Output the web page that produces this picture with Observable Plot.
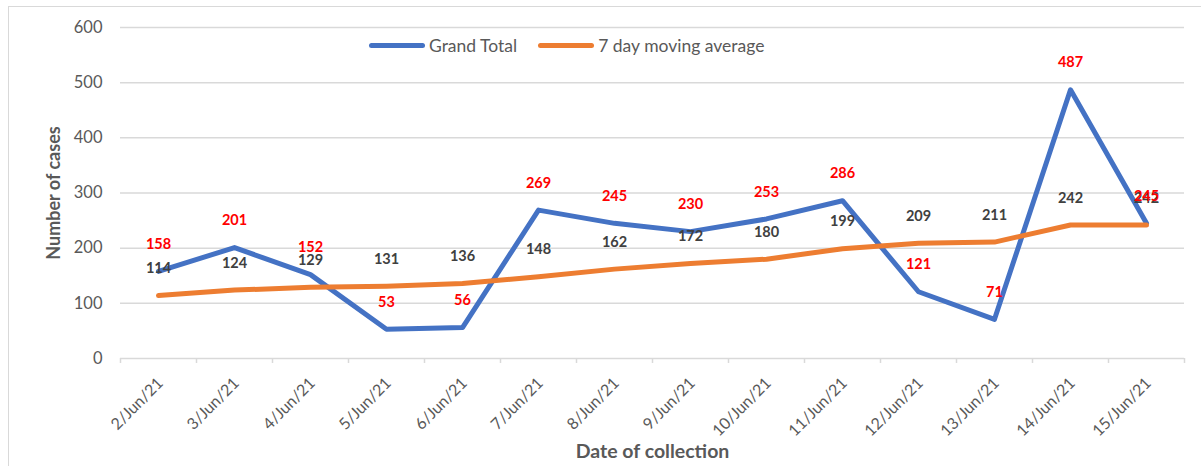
<!DOCTYPE html>
<html>
<head>
<meta charset="utf-8">
<script src="https://cdn.jsdelivr.net/npm/d3@7"></script>
<script src="https://cdn.jsdelivr.net/npm/@observablehq/plot@0.6"></script>
<style>
  html, body { margin: 0; padding: 0; background: #fff; }
  #wrap { position: relative; width: 1201px; height: 466px; overflow: hidden; font-family: Lato, sans-serif; }
  #frame { position: absolute; left: 8px; top: 6px; width: 1300px; height: 500px; border-left: 1.5px solid #d9d9d9; border-top: 1.5px solid #d9d9d9; box-sizing: border-box; }
  #legend { position: absolute; top: 35px; left: 369px; display: flex; align-items: center; font-size: 17.5px; color: #595959; white-space: nowrap; }
  .sw { display: inline-block; width: 56px; height: 5px; border-radius: 3px; margin-right: 4px; }
  .item { display: flex; align-items: center; margin-right: 21px; }
  #chart { position: absolute; left: 0; top: 0; }
</style>
</head>
<body>
<div id="wrap">
  <div id="frame"></div>
  <div id="chart"></div>
  <div id="legend"></div>
</div>
<script>
const dates = ["2/Jun/21","3/Jun/21","4/Jun/21","5/Jun/21","6/Jun/21","7/Jun/21","8/Jun/21","9/Jun/21","10/Jun/21","11/Jun/21","12/Jun/21","13/Jun/21","14/Jun/21","15/Jun/21"];
const grandTotal = [158,201,152,53,56,269,245,230,253,286,121,71,487,245];
const movingAvg = [114,124,129,131,136,148,162,172,180,199,209,211,242,242];
const yTicks = [0,100,200,300,400,500,600];
const seriesNames = ["Grand Total","7 day moving average"];
const seriesColors = ["#4472c4","#ed7d31"];

const rows = dates.map((d, i) => ({date: d, total: grandTotal[i], avg: movingAvg[i]}));
const halfStep = 38;

const chart = Plot.plot({
  width: 1201,
  height: 466,
  marginLeft: 120,
  marginRight: 17,
  marginTop: 27,
  marginBottom: 108,
  style: {fontFamily: "Lato, sans-serif", fontSize: "16px", background: "transparent"},
  x: {type: "point", domain: dates, padding: 0.5, axis: null},
  y: {domain: [0, 600], axis: null},
  marks: [
    Plot.gridY(yTicks, {stroke: "#d9d9d9", strokeOpacity: 1, strokeWidth: 1.5}),
    Plot.ruleX(dates, {x: d => d, dx: -halfStep, y1: 0, y2: -9, stroke: "#d9d9d9", strokeWidth: 1.5}),
    Plot.ruleX(dates.slice(-1), {x: d => d, dx: halfStep, y1: 0, y2: -9, stroke: "#d9d9d9", strokeWidth: 1.5}),
    Plot.axisY({ticks: yTicks, tickSize: 0, tickPadding: 18, fontSize: 16.5, fill: "#595959", label: null}),
    Plot.text(dates, {x: d => d, frameAnchor: "bottom", rotate: -45, textAnchor: "end", lineAnchor: "middle", dy: 22, dx: 2, fontSize: 16, fill: "#595959"}),
    Plot.text(["Number of cases"], {frameAnchor: "left", textAnchor: "middle", rotate: -90, dx: -66, fontWeight: "bold", fontSize: 18, fill: "#595959"}),
    Plot.text(["Date of collection"], {frameAnchor: "bottom", textAnchor: "middle", dy: 99, fontWeight: "bold", fontSize: 19.5, fill: "#595959"}),
    Plot.line(rows, {x: "date", y: "total", stroke: seriesColors[0], strokeWidth: 5, strokeLinecap: "round", strokeLinejoin: "round"}),
    Plot.line(rows, {x: "date", y: "avg", stroke: seriesColors[1], strokeWidth: 5, strokeLinecap: "round", strokeLinejoin: "round"}),
    Plot.text(rows, {x: "date", y: "avg", text: "avg", dy: -27, fontSize: 14.5, fontWeight: "bold", fill: "#404040"}),
    Plot.text(rows, {x: "date", y: "total", text: "total", dy: -27, fontSize: 14.5, fontWeight: "bold", fill: "#ff0000"})
  ]
});
document.getElementById("chart").appendChild(chart);

const legend = document.getElementById("legend");
seriesNames.forEach((name, i) => {
  const item = document.createElement("div");
  item.className = "item";
  const sw = document.createElement("span");
  sw.className = "sw";
  sw.style.background = seriesColors[i];
  const label = document.createElement("span");
  label.textContent = name;
  item.appendChild(sw);
  item.appendChild(label);
  legend.appendChild(item);
});
</script>
</body>
</html>
